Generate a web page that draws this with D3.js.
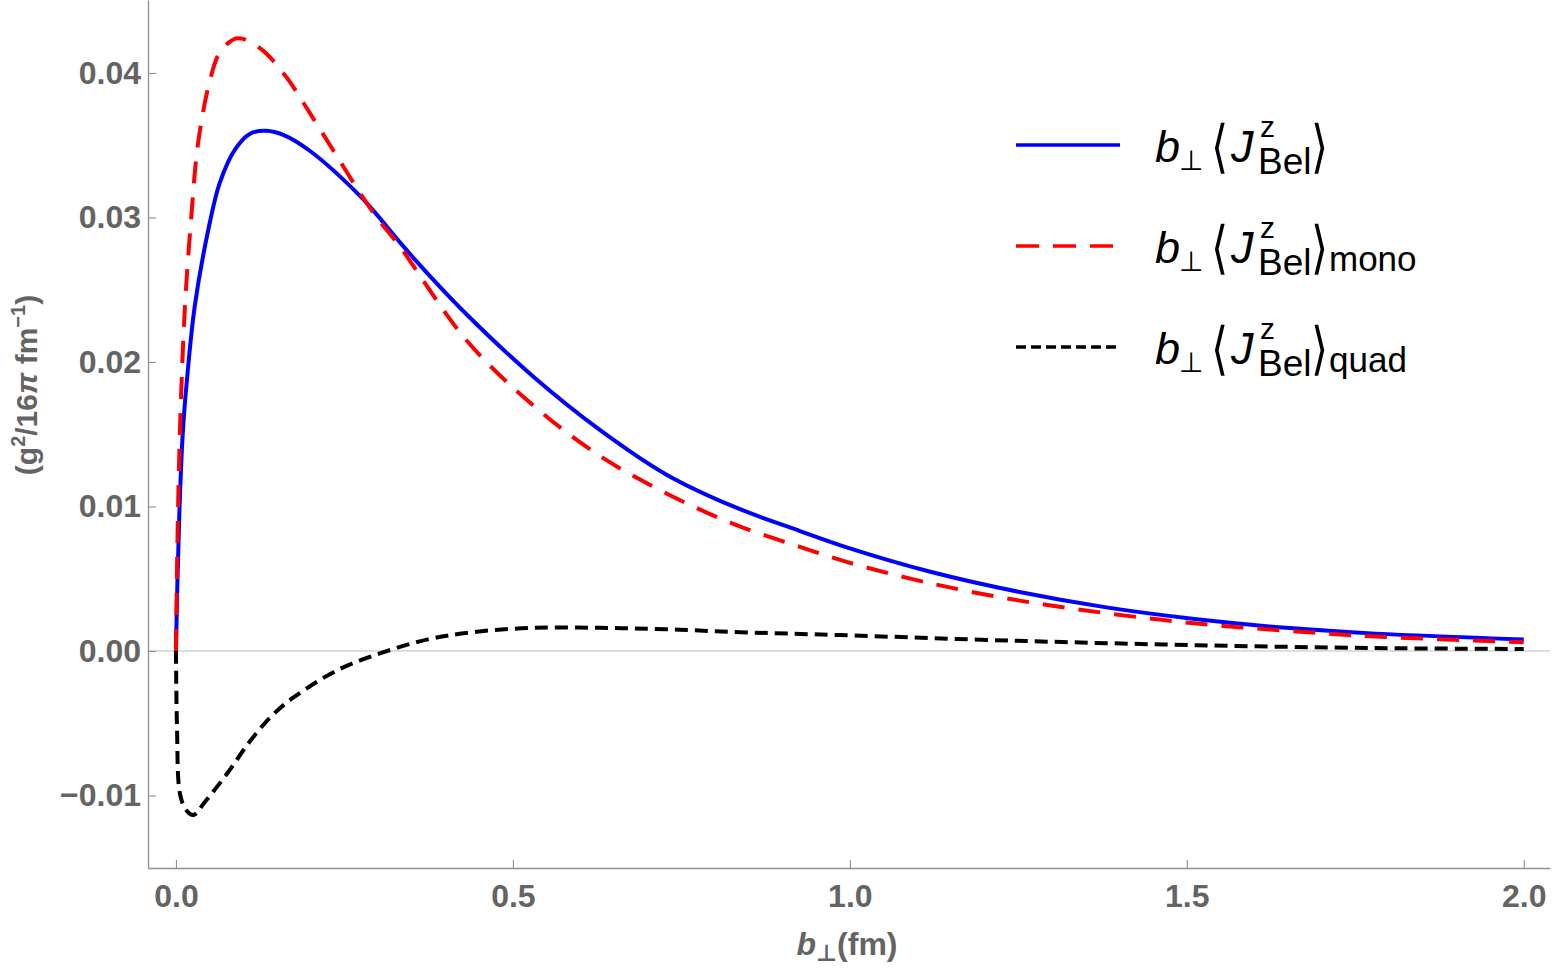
<!DOCTYPE html>
<html>
<head>
<meta charset="utf-8">
<script src="https://cdn.jsdelivr.net/npm/d3@7"></script>
<style>
  body { margin: 0; background: #fff; }
  svg { display: block; }
  text { font-family: "Liberation Sans", Arial, "DejaVu Sans", sans-serif; }
</style>
</head>
<body>
<svg id="chart" width="1555" height="969"></svg>
<script>
// ---------------- data ----------------
const bTotal = [0, 0.002, 0.005, 0.01, 0.0158, 0.028, 0.05, 0.065, 0.0875, 0.11, 0.134, 0.16, 0.199, 0.273, 0.298, 0.332, 0.362, 0.431, 0.53, 0.629, 0.728, 0.827, 0.926, 1.0, 1.118, 1.25, 1.383, 1.515, 1.648, 1.78, 2.0];
const jTotal = [0, 0.0045, 0.0095, 0.0150, 0.0185, 0.0239, 0.0296, 0.0324, 0.0347, 0.0358, 0.0360, 0.0357, 0.0346, 0.0315, 0.0302, 0.0283, 0.0267, 0.0233, 0.0190, 0.0153, 0.0122, 0.0100, 0.0083, 0.0071, 0.0055, 0.0041, 0.0030, 0.0022, 0.0016, 0.0012, 0.0008];

const bMono = [0, 0.002, 0.006, 0.0134, 0.022, 0.033, 0.05, 0.065, 0.091, 0.125, 0.164, 0.199, 0.238, 0.273, 0.298, 0.332, 0.431, 0.53, 0.629, 0.728, 0.827, 0.926, 1.0, 1.118, 1.25, 1.383, 1.515, 1.648, 1.78, 2.0];
const jMono = [0, 0.0070, 0.0154, 0.0239, 0.0296, 0.0352, 0.0394, 0.0414, 0.0424, 0.0417, 0.0397, 0.0372, 0.0343, 0.0317, 0.0300, 0.0280, 0.0215, 0.0170, 0.0135, 0.0109, 0.0088, 0.0072, 0.0061, 0.0047, 0.0035, 0.0026, 0.0019, 0.0014, 0.0010, 0.0006];

const bQuad = [0, 0.0015, 0.006, 0.015, 0.026, 0.042, 0.0757, 0.109, 0.142, 0.175, 0.241, 0.307, 0.374, 0.44, 0.53, 0.629, 0.728, 0.837, 0.985, 1.25, 1.515, 1.78, 2.0];
const jQuad = [0, -0.0052, -0.0099, -0.0110, -0.01135, -0.0105, -0.0085, -0.0063, -0.0045, -0.0032, -0.0013, -0.0001, 0.0008, 0.0013, 0.0016, 0.0016, 0.0015, 0.0013, 0.0011, 0.0007, 0.0004, 0.0002, 0.00014];

const xTickValues = [0, 0.5, 1.0, 1.5, 2.0];
const xTickLabels = ["0.0", "0.5", "1.0", "1.5", "2.0"];
const yTickValues = [-0.01, 0, 0.01, 0.02, 0.03, 0.04];
const yTickLabels = ["\u22120.01", "0.00", "0.01", "0.02", "0.03", "0.04"];
const legendSubs = ["", "mono", "quad"];

// ---------------- chart ----------------
const svg = d3.select("#chart");
const x = d3.scaleLinear().domain([-0.0415, 2.039]).range([148, 1550]);
const y = d3.scaleLinear().domain([-0.01502, 0.04505]).range([868, 0]);

const axisColor = "#8f8f8f";
const labelColor = "#646464";

// zero line
svg.append("line")
  .attr("x1", x.range()[0]).attr("x2", x.range()[1])
  .attr("y1", y(0)).attr("y2", y(0))
  .attr("stroke", "#bdbdbd").attr("stroke-width", 1);

// minor ticks
const xMinor = d3.range(0, 21).map(i => i / 10).filter(v => !xTickValues.some(t => Math.abs(t - v) < 1e-9));
const yMinor = d3.range(-7, 23).map(i => i * 0.002).filter(v => !yTickValues.some(t => Math.abs(t - v) < 1e-9));

const gx = svg.append("g").attr("transform", `translate(0,${y.range()[0]})`);
gx.call(d3.axisBottom(x).tickValues(xMinor).tickSizeInner(-4).tickSizeOuter(0).tickFormat(""));
gx.call(d3.axisBottom(x).tickValues(xTickValues).tickSizeInner(-8).tickSizeOuter(0).tickPadding(16)
  .tickFormat((d, i) => xTickLabels[i]));

const gy = svg.append("g").attr("transform", `translate(${x.range()[0]},0)`);
gy.call(d3.axisLeft(y).tickValues(yMinor).tickSizeInner(-5).tickSizeOuter(0).tickFormat(""));
gy.call(d3.axisLeft(y).tickValues(yTickValues).tickSizeInner(-8).tickSizeOuter(0).tickPadding(7)
  .tickFormat((d, i) => yTickLabels[i]));

[gx, gy].forEach(g => {
  g.selectAll("path.domain").attr("stroke", axisColor).attr("stroke-width", 1.3);
  g.selectAll(".tick line").attr("stroke", axisColor).attr("stroke-width", 1.1);
  g.selectAll(".tick text")
    .attr("fill", labelColor)
    .style("font-family", "'Liberation Sans', Arial, sans-serif")
    .style("font-size", "32px")
    .style("font-weight", "bold");
});

// curves
const line = d3.line().x(d => x(d[0])).y(d => y(d[1])).curve(d3.curveCatmullRom.alpha(0.5));
const series = [
  { b: bTotal, v: jTotal, color: "#0000ff", dash: null },
  { b: bMono, v: jMono, color: "#ff0000", dash: "22,14" },
  { b: bQuad, v: jQuad, color: "#000000", dash: "13,7" }
];
series.forEach(s => {
  svg.append("path")
    .datum(s.b.map((bv, i) => [bv, s.v[i]]))
    .attr("d", line)
    .attr("fill", "none")
    .attr("stroke", s.color)
    .attr("stroke-width", 4)
    .attr("stroke-dasharray", s.dash);
});

// legend
const legend = svg.append("g");
const legendRows = [145, 246, 347];
series.forEach((s, i) => {
  const ly = legendRows[i];
  legend.append("line")
    .attr("x1", 1016).attr("x2", 1120).attr("y1", ly).attr("y2", ly)
    .attr("stroke", s.color).attr("stroke-width", 3.4)
    .attr("stroke-dasharray", s.dash ? (i === 1 ? "23,14" : "10,5") : null);
  const x0 = 1155, y0 = ly + 17;
  const put = (txt, dx, dy, size, italic, family, sy) => {
    const t = legend.append("text")
      .attr("transform", `translate(${x0 + dx},${y0 + dy})` + (sy ? ` scale(1,${sy})` : ""))
      .style("font-size", size + "px").attr("fill", "#000").text(txt);
    if (italic) t.style("font-style", "italic");
    if (family) t.style("font-family", family);
    return t;
  };
  put("b", 0, 0, 45, true);
  put("\u22a5", 24, 8, 28, false, "'DejaVu Sans', sans-serif");
  put("\u27e8", 56, 4, 44, false, "'DejaVu Sans', sans-serif", 1.3);
  put("J", 76, 0, 45, true);
  put("z", 105, -25, 30, false);
  put("Bel", 103, 12, 37, false);
  put("\u27e9", 156, 4, 44, false, "'DejaVu Sans', sans-serif", 1.3);
  if (legendSubs[i]) put(legendSubs[i], 174, 8, 35, false);
});

// axis titles
const xt = svg.append("text")
  .attr("x", 847).attr("y", 955)
  .attr("text-anchor", "middle")
  .attr("fill", labelColor)
  .style("font-size", "32px").style("font-weight", "bold");
xt.append("tspan").style("font-style", "italic").text("b");
xt.append("tspan").attr("dy", 6).style("font-size", "23px").style("font-family", "'DejaVu Sans', sans-serif").text("\u22a5");
xt.append("tspan").attr("dy", -6).text("(fm)");

const yt = svg.append("text")
  .attr("transform", "translate(37,385) rotate(-90)")
  .attr("text-anchor", "middle")
  .attr("fill", labelColor)
  .style("font-size", "30px").style("font-weight", "bold");
yt.append("tspan").text("(g");
yt.append("tspan").attr("dy", -12).style("font-size", "20px").text("2");
yt.append("tspan").attr("dy", 12).text("/16");
yt.append("tspan").style("font-style", "italic").text("\u03c0");
yt.append("tspan").text(" fm");
yt.append("tspan").attr("dy", -12).style("font-size", "20px").text("\u22121");
yt.append("tspan").attr("dy", 12).text(")");
</script>
</body>
</html>
